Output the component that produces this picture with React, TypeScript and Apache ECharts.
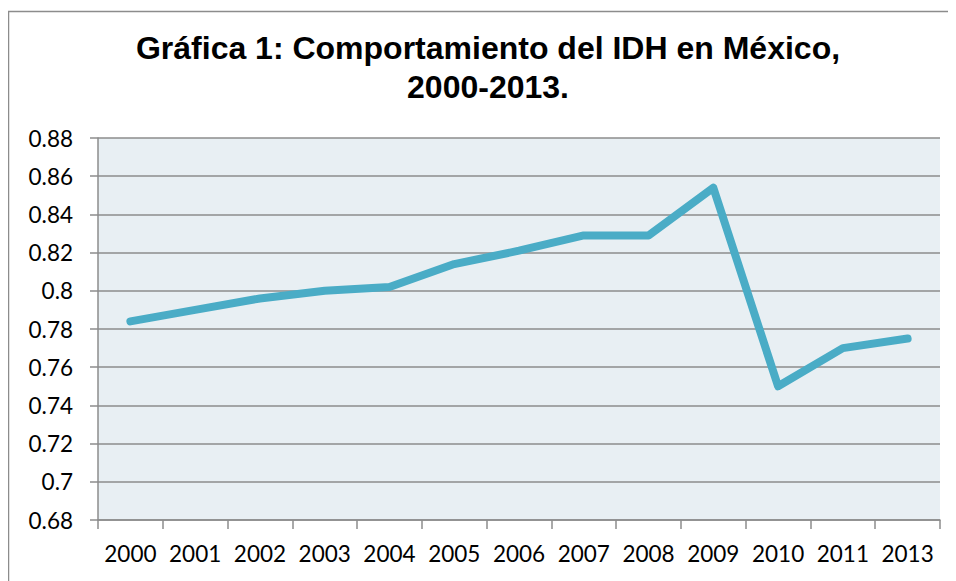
import React, { useEffect, useRef } from "react";
import * as echarts from "echarts";

const categories = ["2000", "2001", "2002", "2003", "2004", "2005", "2006", "2007", "2008", "2009", "2010", "2011", "2013"];
const idhValues = [0.784, 0.79, 0.796, 0.8, 0.802, 0.814, 0.821, 0.829, 0.829, 0.854, 0.75, 0.77, 0.775];
const titleText = "Gráfica 1: Comportamiento del IDH en México,\n2000-2013.";

export default function App() {
  const ref = useRef<HTMLDivElement>(null);
  useEffect(() => {
    const chart = echarts.init(ref.current!, null, { renderer: "svg" });
    chart.setOption({
      animation: false,
      backgroundColor: "#ffffff",
      title: {
        text: titleText,
        left: 475,
        top: 15,
        textAlign: "center",
        textStyle: {
          fontFamily: "Liberation Sans, Arial, sans-serif",
          fontWeight: "bold",
          fontSize: 32,
          lineHeight: 39,
          color: "#000",
        },
      },
      graphic: [
        {
          type: "rect",
          shape: { x: 0.5, y: 3.5, width: 2000, height: 2000 },
          style: { fill: "none", stroke: "#8c8c8c", lineWidth: 1.5 },
          silent: true,
        },
      ],
      grid: { left: 90, right: 16, top: 130, bottom: 61, backgroundColor: "#e8eff3", show: true, borderWidth: 0 },
      xAxis: {
        type: "category",
        data: categories,
        boundaryGap: true,
        axisLine: { lineStyle: { color: "#8c8c8c", width: 1.5 } },
        axisTick: { show: true, length: 9, lineStyle: { color: "#8c8c8c", width: 1.5 } },
        axisLabel: { fontFamily: "Lato, sans-serif", fontSize: 22.5, color: "#000", margin: 22, interval: 0 },
      },
      yAxis: {
        type: "value",
        min: 0.68,
        max: 0.88,
        interval: 0.02,
        axisLine: { show: true, lineStyle: { color: "#8c8c8c", width: 1.5 } },
        axisTick: { show: true, length: 8, lineStyle: { color: "#8c8c8c", width: 1.5 } },
        axisLabel: {
          fontFamily: "Lato, sans-serif",
          fontSize: 22.5,
          color: "#000",
          margin: 25,
          formatter: (v: number) => String(parseFloat(v.toFixed(2))),
        },
        splitLine: { show: true, lineStyle: { color: "#8c8c8c", width: 1.5 } },
      },
      series: [
        {
          type: "line",
          data: idhValues,
          symbol: "none",
          lineStyle: { color: "#4aacc6", width: 8, join: "round", cap: "round" },
        },
      ],
    });
    return () => chart.dispose();
  }, []);
  return <div ref={ref} style={{ width: 948, height: 573 }} />;
}
